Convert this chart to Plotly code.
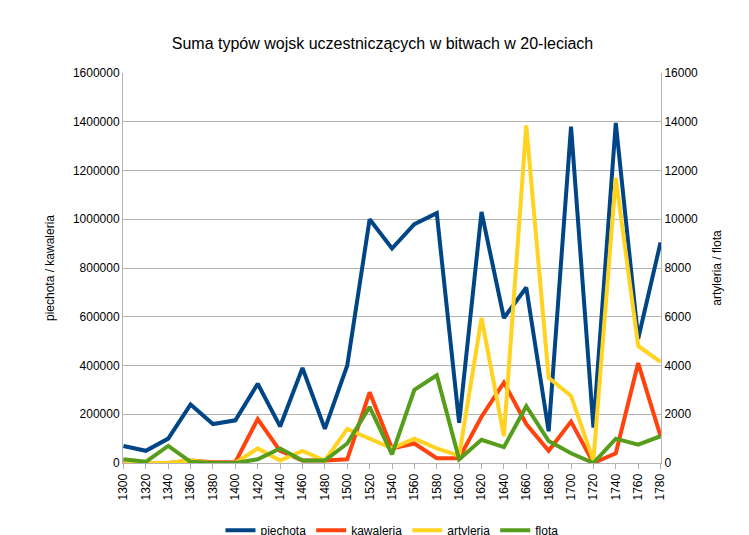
import plotly.graph_objects as go

lata = [str(r) for r in range(1300, 1781, 20)]
piechota = [70000, 50000, 100000, 240000, 160000, 175000, 325000, 150000, 390000, 140000,
            400000, 1000000, 880000, 980000, 1025000, 165000, 1030000, 595000, 720000, 130000,
            1380000, 145000, 1395000, 510000, 905000]
kawaleria = [10000, 0, 0, 10000, 3000, 3000, 180000, 50000, 10000, 10000,
             15000, 290000, 60000, 80000, 20000, 20000, 190000, 330000, 160000, 50000,
             170000, 0, 40000, 410000, 110000]
artyleria = [100, 0, 0, 100, 0, 0, 600, 100, 500, 100,
             1400, 1000, 600, 1000, 600, 300, 5950, 1100, 13850, 3500,
             2750, 100, 11700, 4800, 4150]
flota = [150, 50, 700, 50, 0, 0, 150, 600, 100, 100,
         800, 2300, 350, 3000, 3600, 150, 950, 650, 2330, 900,
         400, 0, 1000, 750, 1100]

fig = go.Figure()
fig.add_trace(go.Scatter(x=lata, y=piechota, name='piechota', mode='lines', line=dict(color='#004586', width=4)))
fig.add_trace(go.Scatter(x=lata, y=kawaleria, name='kawaleria', mode='lines', line=dict(color='#ff420e', width=4)))
fig.add_trace(go.Scatter(x=lata, y=artyleria, name='artyleria', mode='lines', line=dict(color='#ffd320', width=4), yaxis='y2'))
fig.add_trace(go.Scatter(x=lata, y=flota, name='flota', mode='lines', line=dict(color='#579d1c', width=4), yaxis='y2'))

fig.update_layout(
    width=749, height=535,
    paper_bgcolor='white', plot_bgcolor='white',
    font=dict(family='Liberation Sans, Arial', size=12, color='black'),
    title=dict(text='Suma typów wojsk uczestniczących w bitwach w 20-leciach', x=0.5, xanchor='center',
               y=0.945, font=dict(size=16), automargin=False),
    margin=dict(l=115, r=96, t=65, b=80, autoexpand=False),
    xaxis=dict(tickangle=-90, showgrid=False, showline=True, linecolor='#b3b3b3', ticks='outside',
               tickcolor='#b3b3b3', range=[-0.02, 24.02], automargin=False),
    yaxis=dict(title=dict(text='piechota / kawaleria', font=dict(size=12)), range=[0, 1600000], dtick=200000,
               gridcolor='#b3b3b3', showline=True, linecolor='#b3b3b3', tickformat='d', zeroline=False,
               automargin=False),
    yaxis2=dict(title=dict(text='artyleria / flota', font=dict(size=12)), range=[0, 16000], dtick=2000,
                overlaying='y', side='right', showgrid=False, tickformat='d', showline=True,
                linecolor='#b3b3b3', zeroline=False, automargin=False),
    legend=dict(orientation='h', x=0.5, xanchor='center', y=-0.135, yanchor='top', font=dict(size=12)),
)
fig.write_html("out.html")
